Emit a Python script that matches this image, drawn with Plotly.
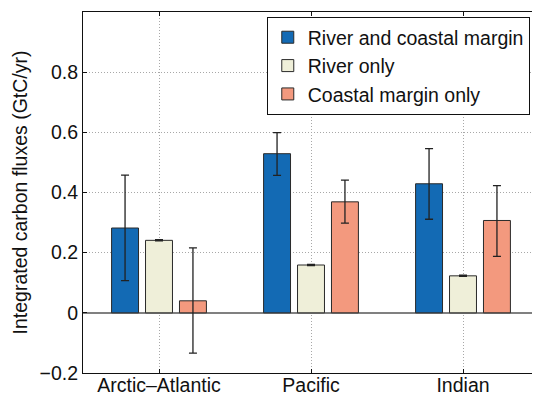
import plotly.graph_objects as go

categories = ["Arctic\u2013Atlantic", "Pacific", "Indian"]
series_names = ["River and coastal margin", "River only", "Coastal margin only"]
both_vals = [0.282, 0.529, 0.429]
both_err_plus = [0.176, 0.070, 0.117]
both_err_minus = [0.175, 0.072, 0.118]
river_vals = [0.241, 0.159, 0.123]
river_err_plus = [0.002, 0.002, 0.002]
river_err_minus = [0.002, 0.002, 0.002]
coast_vals = [0.040, 0.369, 0.307]
coast_err_plus = [0.176, 0.072, 0.116]
coast_err_minus = [0.174, 0.071, 0.119]
colors = ["#136AB4", "#EFEFD9", "#F3997E"]
ytick_vals = [-0.2, 0, 0.2, 0.4, 0.6, 0.8]
ytick_text = ["\u22120.2", "0", "0.2", "0.4", "0.6", "0.8"]

FS = 19.5

fig = go.Figure()
for name, vals, ep, em, col in zip(
    series_names,
    [both_vals, river_vals, coast_vals],
    [both_err_plus, river_err_plus, coast_err_plus],
    [both_err_minus, river_err_minus, coast_err_minus],
    colors,
):
    fig.add_trace(go.Bar(
        x=categories, y=vals, name=name,
        marker=dict(color=col, line=dict(color="#2a2a2a", width=1)),
        error_y=dict(type="data", array=ep, arrayminus=em, symmetric=False,
                     color="#222222", thickness=1.3, width=4),
    ))

# page body has an 8px default margin, so the figure is sized to fill the rest
fig.update_layout(
    width=532, height=389,
    margin=dict(l=75, r=1, t=4, b=24),
    paper_bgcolor="white", plot_bgcolor="white",
    barmode="group", bargap=0.33, bargroupgap=0.206,
    font=dict(family="Liberation Sans, Arial, sans-serif", size=FS, color="#111111"),
    legend=dict(
        x=0.403, y=0.986, xanchor="left", yanchor="top",
        bgcolor="white", bordercolor="#111111", borderwidth=1,
        font=dict(size=FS), tracegroupgap=0, itemwidth=30,
    ),
    showlegend=True,
)
fig.update_xaxes(
    range=[-0.5, 2.5], showline=True, linecolor="#111111", linewidth=1, mirror="ticks",
    ticks="inside", ticklen=4, tickcolor="#111111",
    showgrid=True, gridcolor="#a8a8a8", griddash="1px,2px", gridwidth=1,
    tickfont=dict(size=FS), automargin=False, ticklabelstandoff=-5,
)
fig.update_yaxes(
    range=[-0.2, 1.0], tickvals=ytick_vals, ticktext=ytick_text,
    showline=True, linecolor="#111111", linewidth=1, mirror="ticks",
    ticks="inside", ticklen=4, tickcolor="#111111",
    showgrid=True, gridcolor="#a8a8a8", griddash="1px,2px", gridwidth=1,
    zeroline=True, zerolinecolor="#808080", zerolinewidth=1.5,
    tickfont=dict(size=FS), automargin=False,
    title=dict(text="Integrated carbon fluxes (GtC/yr)", font=dict(size=FS), standoff=6),
)
fig.write_html("out.html")
